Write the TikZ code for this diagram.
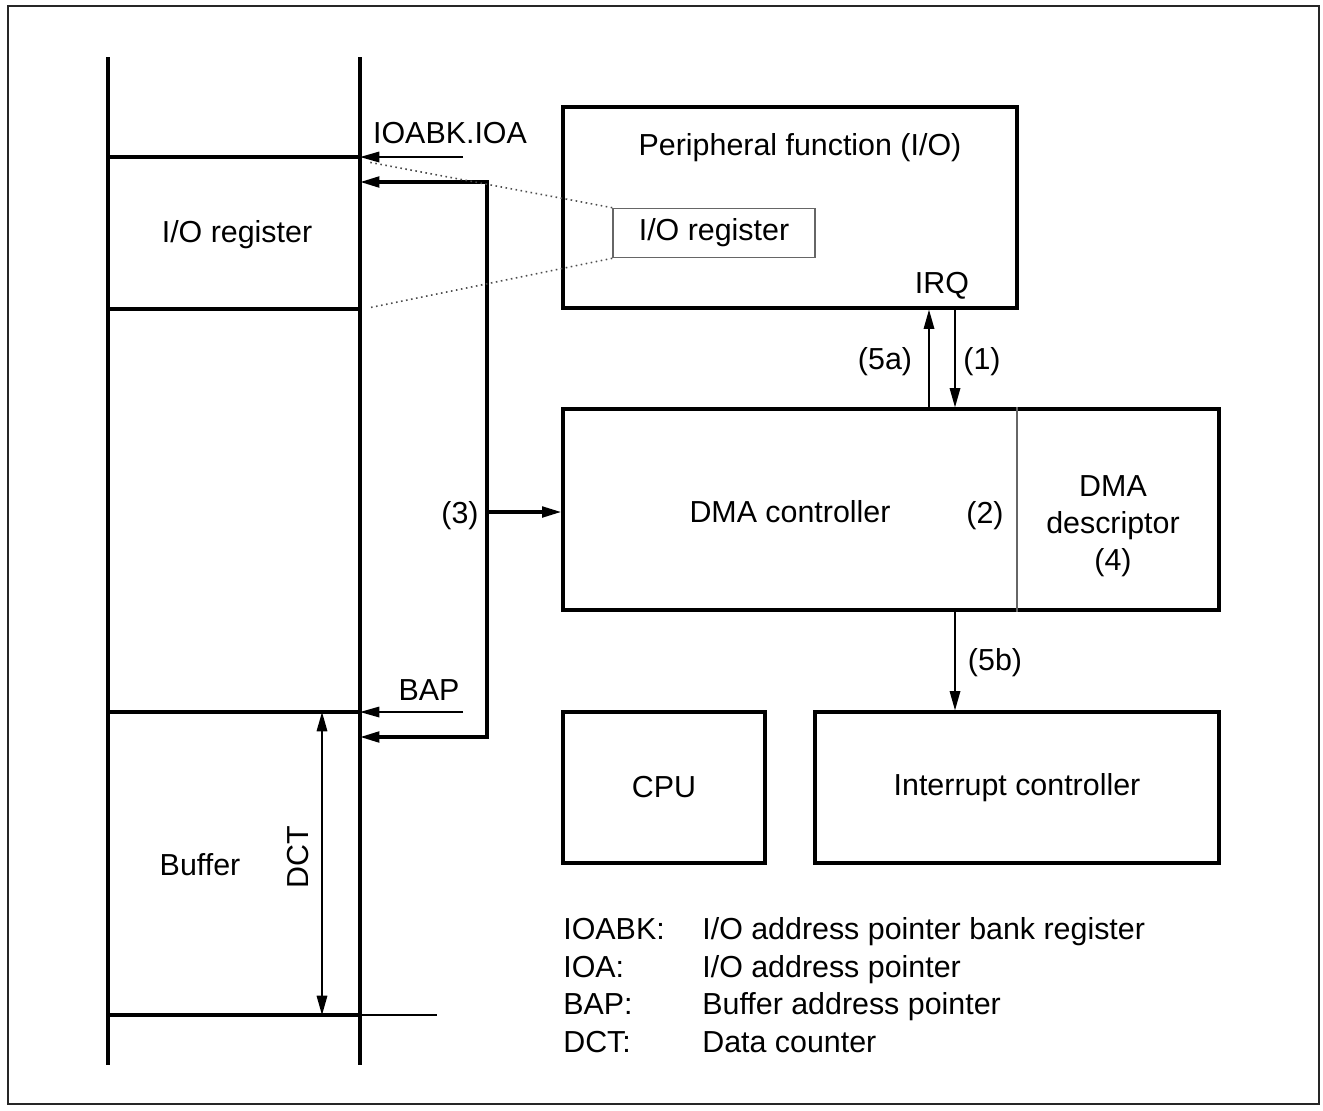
\documentclass[tikz,border=0pt]{standalone}
\usepackage{fontspec}
\setmainfont{Liberation Sans}
\usetikzlibrary{arrows.meta}
\begin{document}
\begin{tikzpicture}[x=0.02cm, y=-0.02cm, >={Triangle[length=11pt,width=6pt]},
  every node/.style={font=\fontsize{17.3}{21}\selectfont, inner sep=0pt},
  blk/.style={draw, line width=1.9pt, inner sep=0pt},
  thk/.style={line width=1.9pt},
  thn/.style={line width=0.9pt},
  lgd/.style={anchor=base west}]
\useasboundingbox (0,0) rectangle (1323,1110);
\draw[line width=0.8pt, black!85] (8,6) rectangle (1319,1104);
% memory map
\draw[thk] (108,57) -- (108,1065);
\draw[thk] (360,57) -- (360,1065);
\foreach \y in {157,309,712,1015} \draw[thk] (108,\y) -- (360,\y);
\draw[thn] (360,1015) -- (437,1015);
\node (ioreg) at (237,235) {I/O register};
\node (buf) at (200,865) {Buffer};
\node[rotate=90] (dct) at (298,857) {DCT};
\coordinate (buftop) at (322,712);
\coordinate (bufbot) at (322,1015);
\draw[thn,<->] (buftop) -- (bufbot);
% blocks
\node[blk, minimum width=9.08cm, minimum height=4.02cm] (per) at (790,207.5) {};
\node (pertxt) at (800,148) {Peripheral function (I/O)};
\node[draw=black!60, thn, minimum width=4.04cm, minimum height=0.98cm] (ior) at (714,233) {I/O register};
\node (irq) at (942,286) {IRQ};
\node[blk, minimum width=13.12cm, minimum height=4.02cm] (dma) at (891,509.5) {};
\draw[thn, black!60] (dma.north -| 1017,0) -- (dma.south -| 1017,0);
\node (dmatxt) at (790,512) {DMA controller};
\node (n2) at (985,516) {(2)};
\node[align=center] (desc) at (1113,526) {DMA\\descriptor\\(4)};
\node[blk, minimum width=4.04cm, minimum height=3.02cm] (cpu) at (664,787.5) {CPU};
\node[blk, minimum width=8.08cm, minimum height=3.02cm] (intc) at (1017,787.5) {Interrupt controller};
% requests
\draw[thn,->] (dma.north -| 929,0) -- (per.south -| 929,0);
\draw[thn,->] (per.south -| 955,0) -- (dma.north -| 955,0);
\draw[thn,->] (dma.south -| 955,0) -- (intc.north -| 955,0);
\node (n5a) at (885,362) {(5a)};
\node (n1) at (982,362) {(1)};
\node (n5b) at (995,663) {(5b)};
% pointers
\node (ioabk) at (450,133) {IOABK.IOA};
\node (bap) at (429,690) {BAP};
\coordinate (ioap) at (360,157);
\coordinate (ioasrc) at (463,157);
\coordinate (bapp) at (360,712);
\coordinate (bapsrc) at (463,712);
\draw[thn,->] (ioasrc) -- (ioap);
\draw[thn,->] (bapsrc) -- (bapp);
\coordinate (ioaw) at (360,182);
\coordinate (bapw) at (360,737);
\coordinate (busb) at (487,737);
\coordinate (busm) at (487,512);
\draw[thk,<->] (ioaw) -| (busb) -- (bapw);
\draw[thk,->] (busm) -- (busm -| dma.west);
\node (n3) at (460,516) {(3)};
\draw[thn, dotted, black!70] (ior.north west) -- (368,162);
\draw[thn, dotted, black!70] (ior.south west) -- (368,308);
% legend
\node[lgd] (k1) at (563,939) {IOABK:};
\node[lgd] (k2) at (563,977) {IOA:};
\node[lgd] (k3) at (563,1014) {BAP:};
\node[lgd] (k4) at (563,1052) {DCT:};
\node[lgd] (v1) at (702,939) {I/O address pointer bank register};
\node[lgd] (v2) at (702,977) {I/O address pointer};
\node[lgd] (v3) at (702,1014) {Buffer address pointer};
\node[lgd] (v4) at (702,1052) {Data counter};
\end{tikzpicture}
\end{document}
